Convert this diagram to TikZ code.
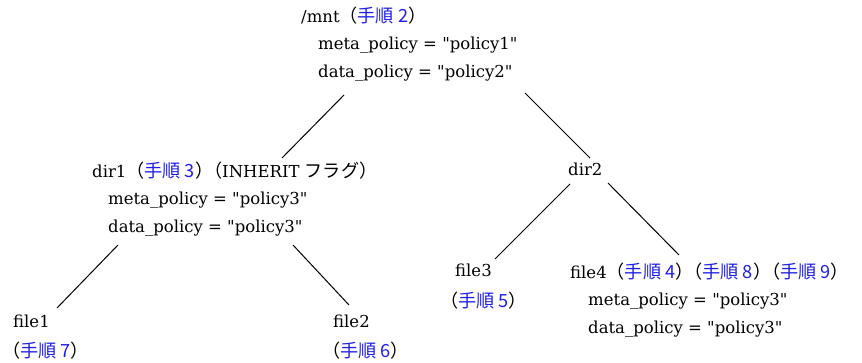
\documentclass[tikz,border=0pt]{standalone}
\usepackage{fontspec}
\setmainfont{DejaVu Serif}[Ligatures=TeXOff]
\newfontfamily\cjk{Noto Sans CJK JP}[Scale=1.1]
\usepackage{tikz}
\usetikzlibrary{positioning, calc}
\definecolor{stepblue}{RGB}{30,30,235}
\newcommand{\tejun}[1]{{\cjk （{\color{stepblue}手順 #1}）}}
% closing and opening brackets side by side share half an em
\newcommand{\bktjoin}{{\cjk\kern-.5em}}
\tikzstyle{branch} = [line width=1pt]
\tikzstyle{entry} = [anchor=base west, inner sep=0pt, align=left, font=\fontsize{16.5}{28}\selectfont]

\begin{document}
\begin{tikzpicture}[x=1pt, y=1pt]
        \useasboundingbox (0,0) rectangle (862,362);
        % root directory and its policies
        \node (mnt) [entry] at (301,339) {/mnt\tejun{2}};
        \node (mntpol) [entry] at ([shift={(17,-55)}]mnt.base west) {meta\_policy = "policy1"\\data\_policy = "policy2"};
        % second level
        \node (dir1) [entry] at (92,185) {dir1\tejun{3}\bktjoin{\cjk （}INHERIT {\cjk フラグ）}};
        \node (dir1pol) [entry] at ([shift={(16,-55)}]dir1.base west) {meta\_policy = "policy3"\\data\_policy = "policy3"};
        \node (dir2) [entry] at (568,186) {dir2};
        % leaves
        \node (file1) [entry] at (13,35) {file1};
        \node (file1step) [entry] at ([shift={(-11,-30)}]file1.base west) {\tejun{7}};
        \node (file2) [entry] at (333,35) {file2};
        \node (file2step) [entry] at ([shift={(-11,-30)}]file2.base west) {\tejun{6}};
        \node (file3) [entry] at (455,86) {file3};
        \node (file3step) [entry] at ([shift={(-15,-31)}]file3.base west) {\tejun{5}};
        \node (file4) [entry] at (570,84) {file4\tejun{4}\bktjoin\tejun{8}\bktjoin\tejun{9}};
        \node (file4pol) [entry] at ([shift={(18,-55)}]file4.base west) {meta\_policy = "policy3"\\data\_policy = "policy3"};

        \draw [branch] ([shift={(26,-17)}]mntpol.base west) -- ([shift={(190,19)}]dir1.base west);
        \draw [branch] ([shift={(207,-15)}]mntpol.base west) -- ([shift={(22,18)}]dir2.base west);
        \draw [branch] ([shift={(10,-13)}]dir1pol.base west) -- ([shift={(44,19)}]file1.base west);
        \draw [branch] ([shift={(185,-13)}]dir1pol.base west) -- ([shift={(16,22)}]file2.base west);
        \draw [branch] ([shift={(2,-8)}]dir2.base west) -- ([shift={(40,17)}]file3.base west);
        \draw [branch] ([shift={(40,-7)}]dir2.base west) -- ([shift={(109,23)}]file4.base west);
\end{tikzpicture}
\end{document}
